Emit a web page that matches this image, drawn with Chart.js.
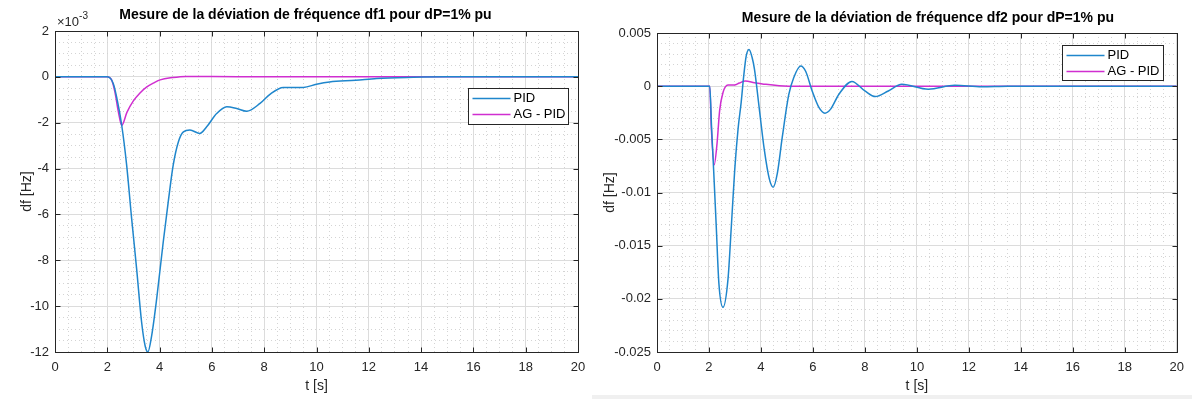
<!DOCTYPE html>
<html>
<head>
<meta charset="utf-8">
<title>Mesure de la déviation de fréquence</title>
<script src="https://cdn.jsdelivr.net/npm/chart.js@4.4.1/dist/chart.umd.min.js"></script>
<style>
  html, body { margin:0; padding:0; background:#fff; }
  body { width:1192px; height:399px; position:relative; overflow:hidden; }
  .panel { position:absolute; top:0; width:596px; height:399px; }
  #p1 { left:0; }
  #p2 { left:596px; }
  #strip { position:absolute; left:592px; top:395px; width:600px; height:4px; background:#f0f0f0; }
</style>
</head>
<body>
<div class="panel" id="p1"><canvas id="df1Chart" width="596" height="399"></canvas></div>
<div class="panel" id="p2"><canvas id="df2Chart" width="596" height="399"></canvas></div>
<div id="strip"></div>
<script>
// df1 (area 1), values in 1e-3 Hz
const tPid1 = [0, 2.0, 2.23, 2.36, 2.55, 2.74, 2.93, 3.12, 3.31, 3.45, 3.55, 3.70, 3.89, 4.14, 4.33, 4.52, 4.72, 4.91, 5.16, 5.54, 5.80, 6.18, 6.57, 6.95, 7.33, 7.84, 8.22, 8.73, 9.5, 10.0, 10.5, 11.5, 12.3, 13.7, 15, 20];
const df1Pid = [0, 0, -0.3, -0.9, -2.1, -3.85, -6.17, -8.35, -10.68, -11.75, -12.0, -11.26, -9.66, -7.19, -5.45, -3.85, -2.83, -2.40, -2.32, -2.47, -2.18, -1.60, -1.30, -1.38, -1.50, -1.16, -0.76, -0.46, -0.46, -0.32, -0.22, -0.15, -0.07, -0.02, 0, 0];
const tAg1 = [0, 2.0, 2.15, 2.29, 2.42, 2.55, 2.75, 2.99, 3.25, 3.5, 3.8, 4.02, 4.5, 5.0, 6, 8, 20];
const df1Ag = [0, 0, -0.1, -0.65, -1.5, -2.12, -1.55, -1.06, -0.70, -0.45, -0.25, -0.13, -0.03, 0.02, 0.02, 0, 0];

// df2 (area 2), values in Hz
const tPid2 = [0, 2.03, 2.1, 2.18, 2.28, 2.38, 2.54, 2.73, 2.86, 2.99, 3.12, 3.24, 3.33, 3.43, 3.54, 3.66, 3.75, 3.94, 4.13, 4.32, 4.47, 4.63, 4.82, 5.07, 5.26, 5.53, 5.72, 5.97, 6.23, 6.46, 6.68, 7.0, 7.5, 8.0, 8.4, 8.9, 9.42, 10.44, 11.46, 12.5, 13.5, 20];
const df2Pid = [0, 0, -0.0039, -0.0079, -0.0132, -0.0185, -0.0208, -0.0182, -0.0132, -0.0079, -0.0040, -0.0015, 0.0008, 0.0028, 0.00345, 0.0027, 0.0016, -0.0022, -0.0060, -0.0087, -0.0095, -0.0082, -0.0048, -0.0008, 0.0008, 0.0019, 0.0014, -0.00045, -0.0020, -0.00254, -0.00216, -0.00076, 0.00045, -0.00045, -0.00098, -0.00045, 0.00018, -0.00029, 0.00008, -0.00005, 0, 0];
const tAg2 = [0, 2.03, 2.09, 2.2, 2.31, 2.41, 2.54, 2.73, 2.98, 3.17, 3.4, 3.75, 4.19, 4.7, 5.5, 20];
const df2Ag = [0, 0, -0.0039, -0.0074, -0.0054, -0.0023, -0.0006, 0.0001, 0.0001, 0.0003, 0.00048, 0.00033, 0.00017, 0.00005, 0, 0];

const seriesLabels = ['PID', 'AG - PID'];
const seriesColors = ['#1f86cc', '#d02ed0'];

Chart.defaults.font.family = '"Liberation Sans", Arial, sans-serif';
Chart.defaults.font.size = 13;
Chart.defaults.color = '#262626';

function isMult(v, step){
    return Math.abs(v / step - Math.round(v / step)) < 1e-6;
}

function toPoints(ts, vs){
    return ts.map((t, i) => ({x: t, y: vs[i]}));
}

// MATLAB-like box: frame, inward ticks, title, axis labels, legend
const matlabAxes = {
    id: 'matlabAxes',
    afterDraw(chart, args, o){
        const {ctx, chartArea: a, scales: {x, y}} = chart;
        const x0 = Math.round(x.getPixelForValue(x.min)) + 0.5;
        const x1 = Math.round(x.getPixelForValue(x.max)) + 0.5;
        const y0 = Math.round(y.getPixelForValue(y.max)) + 0.5;
        const y1 = Math.round(y.getPixelForValue(y.min)) + 0.5;
        ctx.save();
        ctx.strokeStyle = '#262626';
        ctx.lineWidth = 1;
        ctx.beginPath();
        x.ticks.forEach(tk => {
            if(!isMult(tk.value, o.xMajor)) return;
            const px = Math.round(x.getPixelForValue(tk.value)) + 0.5;
            ctx.moveTo(px, y1); ctx.lineTo(px, y1 - 5);
            ctx.moveTo(px, y0); ctx.lineTo(px, y0 + 5);
        });
        y.ticks.forEach(tk => {
            if(!isMult(tk.value, o.yMajor)) return;
            const py = Math.round(y.getPixelForValue(tk.value)) + 0.5;
            ctx.moveTo(x0, py); ctx.lineTo(x0 + 5, py);
            ctx.moveTo(x1, py); ctx.lineTo(x1 - 5, py);
        });
        ctx.stroke();
        ctx.strokeRect(x0, y0, x1 - x0, y1 - y0);

        // title
        const cx = (a.left + a.right) / 2;
        ctx.fillStyle = '#000';
        ctx.textAlign = 'center';
        ctx.textBaseline = 'middle';
        ctx.font = 'bold 14px "Liberation Sans", Arial, sans-serif';
        ctx.fillText(o.title, cx + o.titleDx, o.titleY);

        // axis labels
        ctx.fillStyle = '#262626';
        ctx.font = '14px "Liberation Sans", Arial, sans-serif';
        ctx.fillText('t [s]', cx, o.xLabelY);
        ctx.save();
        ctx.translate(o.yLabelX, (a.top + a.bottom) / 2);
        ctx.rotate(-Math.PI / 2);
        ctx.fillText('df [Hz]', 0, 0);
        ctx.restore();

        // exponent of the y axis
        if(o.exponent){
            ctx.textAlign = 'left';
            ctx.font = '13px "Liberation Sans", Arial, sans-serif';
            ctx.fillText('\u00d710', a.left + 2, a.top - 9);
            const w = ctx.measureText('\u00d710').width;
            ctx.font = '10px "Liberation Sans", Arial, sans-serif';
            ctx.fillText(o.exponent, a.left + 2 + w, a.top - 15);
        }

        // legend
        const L = o.legend;
        const bx = Math.round(a.right - L.right - L.w) + 0.5;
        const by = Math.round(a.top + L.top) + 0.5;
        ctx.fillStyle = '#fff';
        ctx.fillRect(bx, by, L.w, L.h);
        ctx.strokeStyle = '#262626';
        ctx.lineWidth = 1;
        ctx.strokeRect(bx, by, L.w, L.h);
        ctx.font = '13px "Liberation Sans", Arial, sans-serif';
        ctx.textAlign = 'left';
        chart.data.datasets.forEach((ds, i) => {
            const ly = by + 10 + i * 16;
            ctx.strokeStyle = ds.borderColor;
            ctx.lineWidth = 1.5;
            ctx.beginPath();
            ctx.moveTo(bx + 4, ly); ctx.lineTo(bx + 42, ly);
            ctx.stroke();
            ctx.fillStyle = '#000';
            ctx.fillText(ds.label, bx + 45, ly);
        });
        ctx.restore();
    }
};

function gridColor(major){
    return ctx => (ctx.tick && isMult(ctx.tick.value, major)) ? '#dcdcdc' : '#d4d4d4';
}
function gridDash(major){
    return ctx => (ctx.tick && isMult(ctx.tick.value, major)) ? [] : [1, 3];
}

function createChart(id, cfg){
    const ctx = document.getElementById(id).getContext('2d');
    return new Chart(ctx, {
        type: 'line',
        data: {
            datasets: [
                { label: seriesLabels[0], data: toPoints(cfg.tPid, cfg.pid), borderColor: seriesColors[0] },
                { label: seriesLabels[1], data: toPoints(cfg.tAg, cfg.ag), borderColor: seriesColors[1] }
            ].map(ds => Object.assign(ds, {
                borderWidth: 1.5, pointRadius: 0, fill: false, cubicInterpolationMode: 'monotone'
            }))
        },
        options: {
            responsive: false,
            animation: false,
            events: [],
            layout: { padding: { left: 0, top: cfg.top, right: 596 - cfg.right, bottom: 0 } },
            plugins: {
                legend: { display: false },
                tooltip: { enabled: false },
                matlabAxes: cfg.axes
            },
            scales: {
                x: {
                    type: 'linear', min: 0, max: 20,
                    afterFit: s => { s.height = 399 - cfg.bottom; },
                    ticks: { stepSize: 0.5, autoSkip: false, maxRotation: 0, padding: 8,
                        callback: v => isMult(v, 2) ? String(Math.round(v)) : '' },
                    grid: { drawTicks: false, color: gridColor(2) },
                    border: { display: false, dash: gridDash(2) }
                },
                y: {
                    type: 'linear', min: cfg.yMin, max: cfg.yMax,
                    afterFit: s => { s.width = cfg.left; },
                    ticks: { stepSize: cfg.yMinor, autoSkip: false, padding: 6,
                        callback: v => isMult(v, cfg.yMajor) ? cfg.fmt(v) : '' },
                    grid: { drawTicks: false, color: gridColor(cfg.yMajor) },
                    border: { display: false, dash: gridDash(cfg.yMajor) }
                }
            }
        },
        plugins: [matlabAxes]
    });
}

createChart('df1Chart', {
    tPid: tPid1, pid: df1Pid, tAg: tAg1, ag: df1Ag,
    left: 55, right: 578, top: 31, bottom: 352,
    yMin: -12, yMax: 2, yMinor: 0.5, yMajor: 2,
    fmt: v => String(Math.round(v)),
    axes: {
        title: 'Mesure de la déviation de fréquence df1 pour dP=1% pu',
        titleY: 15, titleDx: -11, xLabelY: 386, yLabelX: 27, xMajor: 2, yMajor: 2,
        exponent: '-3',
        legend: { right: 10, top: 57, w: 100, h: 36 }
    }
});

createChart('df2Chart', {
    tPid: tPid2, pid: df2Pid, tAg: tAg2, ag: df2Ag,
    left: 61, right: 584, top: 33, bottom: 352,
    yMin: -0.025, yMax: 0.005, yMinor: 0.001, yMajor: 0.005,
    fmt: v => String(Math.round(v * 1000) / 1000),
    axes: {
        title: 'Mesure de la déviation de fréquence df2 pour dP=1% pu',
        titleY: 18, titleDx: 11, xLabelY: 386, yLabelX: 14, xMajor: 2, yMajor: 0.005,
        exponent: null,
        legend: { right: 14, top: 12, w: 101, h: 35 }
    }
});
</script>
</body>
</html>
